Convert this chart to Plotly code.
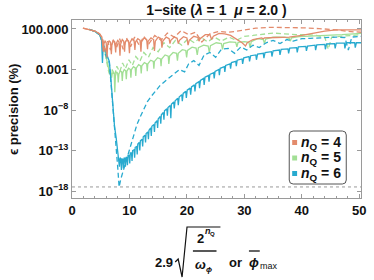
import numpy as np
import plotly.graph_objects as go

# ---------------- data ----------------
# each series: (x, log10 of epsilon precision in %)
# x = 2.9*sqrt(2^nQ / w_phi)  or  phi_max
n4_solid = [(1.9, 2.1), (3.0, 1.95), (4.0, 1.75), (4.8, 1.4), (5.2, 1.0), (5.45, -0.8), (5.55, 0.2), (5.75, 0.5),
            (5.95, 0.3), (6.1, -1.5), (6.2, 0.0), (6.45, 0.55), (6.7, 0.35), (6.85, -1.1), (6.95, 0.1), (7.2, 0.6),
            (7.45, 0.4), (7.6, -0.9), (7.7, 0.2), (7.95, 0.6), (8.2, 0.4), (8.35, -1.3), (8.45, 0.1), (8.75, 0.7),
            (9.0, 0.5), (9.15, -0.8), (9.25, 0.3), (9.55, 0.7), (9.85, 0.5), (10.0, -1.0), (10.1, 0.3), (10.45, 0.8),
            (10.8, 0.6), (10.95, -0.6), (11.05, 0.4), (11.45, 0.8), (11.85, 0.6), (12.0, -0.8), (12.1, 0.4),
            (12.55, 0.9), (13.0, 0.7), (13.15, -0.5), (13.25, 0.5), (13.75, 0.9), (14.2, 0.7), (14.35, -0.7),
            (14.5, 0.5), (15.0, 1.0), (15.5, 0.8), (15.65, -0.3), (15.8, 0.5), (16.4, 1.0), (16.9, 0.8), (17.05, 0.2),
            (17.2, 0.6), (17.8, 1.0), (18.3, 0.85), (18.5, 0.2), (18.7, 0.6), (19.4, 1.05), (20.0, 0.9), (20.2, 0.0),
            (20.4, 0.6), (21.2, 1.1), (21.9, 0.95), (22.1, 0.5), (22.3, 0.8), (23.2, 1.3), (24.0, 1.3), (24.3, 0.7),
            (24.6, 1.1), (25.6, 1.45), (26.6, 1.4), (27.6, 1.2), (28.6, 0.8), (29.6, 0.3), (30.2, -0.1), (30.5, 0.3),
            (31.5, 0.7), (33.0, 0.9), (33.3, 0.8), (33.5, 0.9), (35.5, 0.95), (37.8, 1.0), (40.0, 1.2), (42.0, 1.5),
            (44.0, 1.75), (46.0, 1.9), (48.0, 1.9), (50.3, 1.9)]

n4_dashed = [(1.9, 2.1), (3.0, 1.95), (4.0, 1.75), (4.8, 1.4), (5.4, 0.6), (5.8, -0.9), (6.2, 0.5), (6.7, -0.6),
             (7.2, 0.7), (7.7, -0.4), (8.3, 0.8), (8.9, -0.5), (9.5, 0.9), (10.2, -0.2), (10.9, 1.0), (11.7, 0.0),
             (12.5, 1.1), (13.4, 0.2), (14.4, 1.2), (15.5, 0.6), (16.6, 1.5), (17.8, 1.0), (19.0, 1.8), (20.3, 1.3),
             (21.5, 1.6), (22.6, 0.4), (24.0, 1.4), (25.5, 1.7), (27.0, 1.6), (28.5, 1.7), (30.0, 1.9), (32.0, 2.1),
             (34.5, 2.2), (37.0, 2.2), (40.0, 2.15), (43.0, 2.05), (46.0, 1.9), (48.0, 1.7), (50.3, 1.6)]

n5_solid = [(3.0, 1.95), (4.0, 1.7), (4.8, 1.3), (5.3, 0.5), (5.8, -1.0), (6.2, -2.4), (6.5, -3.3), (6.75, -3.2),
            (6.9, -4.0), (7.0, -3.5), (7.2, -3.35), (7.35, -3.5), (7.45, -5.8), (7.55, -3.8), (7.75, -3.3),
            (7.95, -3.45), (8.05, -4.6), (8.15, -3.6), (8.4, -3.15), (8.65, -3.3), (8.75, -4.4), (8.85, -3.4),
            (9.1, -3.0), (9.35, -3.15), (9.45, -4.2), (9.55, -3.2), (9.85, -2.85), (10.15, -3.0), (10.25, -4.0),
            (10.35, -3.0), (10.7, -2.65), (11.0, -2.8), (11.1, -3.8), (11.2, -2.8), (11.6, -2.4), (11.95, -2.55),
            (12.05, -3.5), (12.15, -2.55), (12.6, -2.15), (13.0, -2.3), (13.1, -3.2), (13.2, -2.3), (13.7, -1.85),
            (14.15, -2.0), (14.25, -2.9), (14.35, -2.0), (14.9, -1.55), (15.4, -1.7), (15.5, -2.6), (15.6, -1.7),
            (16.2, -1.2), (16.75, -1.35), (16.85, -2.3), (17.0, -1.35), (17.6, -0.9), (18.2, -1.0), (18.35, -1.9),
            (18.5, -1.0), (19.2, -0.55), (19.8, -0.65), (19.95, -1.5), (20.1, -0.65), (20.9, -0.25), (21.6, -0.35),
            (21.8, -1.2), (22.0, -0.3), (22.9, 0.0), (23.7, -0.1), (23.9, -0.9), (24.1, -0.05), (25.1, 0.3),
            (26.0, 0.2), (26.2, -0.5), (26.4, 0.2), (27.5, 0.4), (28.5, 0.35), (28.7, -0.2), (28.9, 0.35),
            (30.0, 0.45), (30.8, 0.35), (31.0, -0.3), (31.2, 0.45), (32.3, 0.8), (33.3, 0.7), (33.5, 0.2),
            (33.7, 0.75), (35.0, 1.0), (37.0, 1.0), (37.8, 0.85), (38.0, 0.5), (38.2, 0.9), (39.5, 1.05),
            (41.0, 1.1), (43.0, 1.1), (45.0, 1.2), (47.0, 1.3), (49.0, 1.4), (50.3, 1.45)]

n5_dashed = [(3.0, 1.95), (4.0, 1.7), (4.8, 1.3), (5.4, 0.3), (5.9, -1.5), (6.3, -3.0), (6.7, -4.0), (7.0, -3.0),
             (7.4, -3.8), (7.8, -2.6), (8.3, -3.3), (8.8, -2.2), (9.3, -2.9), (9.9, -1.8), (10.5, -2.5), (11.1, -1.4),
             (11.8, -2.0), (12.5, -0.9), (13.3, -1.5), (14.1, -0.3), (15.0, -0.8), (16.0, 0.3), (17.0, -0.3),
             (18.0, 0.6), (19.1, 0.0), (20.2, 0.8), (21.3, 0.3), (22.4, 1.0), (23.6, 0.4), (24.8, 1.0), (26.0, 0.5),
             (27.3, 1.0), (28.6, 0.6), (30.0, 1.1), (31.5, 1.2), (33.0, 1.3), (35.0, 1.5), (37.0, 1.4), (39.0, 1.3),
             (41.0, 1.3), (42.5, 1.2), (44.0, 1.0), (44.6, -0.5), (45.2, 1.0), (47.0, 1.1), (48.5, 1.2), (50.3, 1.3)]

n6_solid = [(3.0, 1.95), (4.0, 1.7), (4.8, 1.3), (5.15, 0.6), (5.3, -2.2), (5.45, 0.2), (5.7, -0.5), (6.0, -1.0),
            (6.3, -1.5), (6.5, -2.0), (6.8, -4.5), (7.1, -7.5), (7.4, -10.0), (7.7, -11.5), (7.9, -12.6),
            (8.1, -13.6), (8.25, -15.0), (8.35, -13.9), (8.5, -14.0), (8.6, -15.4), (8.7, -14.0), (8.85, -14.1),
            (8.95, -15.2), (9.05, -13.9), (9.2, -14.0), (9.3, -15.0), (9.4, -13.8), (9.55, -13.9), (9.65, -14.8),
            (9.75, -13.6), (9.95, -13.6), (10.05, -14.6), (10.15, -13.3), (10.35, -13.3), (10.45, -14.3),
            (10.55, -13.0), (10.8, -12.9), (10.9, -13.9), (11.0, -12.6), (11.25, -12.5), (11.35, -13.5),
            (11.45, -12.2), (11.7, -12.0), (11.8, -13.0), (11.9, -11.8), (12.2, -11.6), (12.3, -12.5), (12.4, -11.3),
            (12.7, -11.1), (12.8, -12.0), (12.9, -10.9), (13.2, -10.7), (13.3, -11.6), (13.4, -10.5), (13.7, -10.2),
            (13.8, -11.2), (13.9, -10.0), (14.25, -9.8), (14.35, -10.7), (14.45, -9.6), (14.8, -9.3), (14.9, -10.2),
            (15.0, -9.1), (15.35, -8.8), (15.45, -9.7), (15.55, -8.6), (15.9, -8.3), (16.0, -9.2), (16.1, -8.1),
            (16.5, -7.85), (16.6, -8.7), (16.7, -7.7), (17.1, -7.45), (17.2, -9.0), (17.3, -7.3), (17.7, -7.0),
            (17.8, -7.8), (17.95, -6.85), (18.4, -6.55), (18.5, -7.4), (18.65, -6.4), (19.1, -6.1), (19.2, -6.9),
            (19.35, -5.95), (19.8, -5.7), (19.9, -6.5), (20.05, -5.55), (20.55, -5.3), (20.65, -6.1), (20.8, -5.15),
            (21.3, -4.9), (21.4, -5.7), (21.55, -4.75), (22.1, -4.5), (22.2, -5.3), (22.35, -4.35), (22.9, -4.1),
            (23.0, -4.9), (23.15, -3.95), (23.75, -3.75), (23.85, -4.5), (24.0, -3.6), (24.65, -3.4), (24.75, -4.1),
            (24.9, -3.25), (25.55, -3.0), (25.65, -3.7), (25.8, -2.85), (26.5, -2.65), (26.6, -3.3), (26.75, -2.5),
            (27.5, -2.3), (27.6, -2.9), (27.75, -2.15), (28.5, -2.0), (28.6, -2.6), (28.75, -1.85), (29.6, -1.7),
            (29.7, -2.3), (29.9, -1.55), (30.8, -1.4), (30.9, -2.0), (31.1, -1.3), (32.0, -1.2), (32.1, -1.8),
            (32.3, -1.1), (33.3, -1.0), (33.4, -1.6), (33.6, -0.9), (34.7, -0.8), (34.8, -1.4), (35.0, -0.7),
            (36.1, -0.6), (36.2, -1.2), (36.4, -0.5), (37.6, -0.45), (37.7, -1.0), (37.9, -0.35), (39.1, -0.3),
            (39.2, -0.9), (39.4, -0.2), (40.7, -0.15), (40.8, -0.7), (41.0, -0.1), (42.3, 0.0), (42.4, -0.6),
            (42.6, 0.05), (44.0, 0.1), (44.1, -0.5), (44.3, 0.15), (45.7, 0.2), (45.8, -0.4), (46.0, 0.25),
            (47.4, 0.25), (47.5, -0.4), (47.7, 0.3), (49.2, 0.3), (49.3, -0.3), (49.5, 0.3), (50.3, 0.3)]

n6_dashed = [(3.0, 1.95), (4.0, 1.7), (4.8, 1.3), (5.3, 0.4), (5.6, -0.8), (5.9, -1.3), (6.2, -1.6), (6.5, -2.2),
             (6.8, -4.8), (7.1, -7.8), (7.4, -10.6), (7.7, -12.8), (7.95, -15.0), (8.2, -17.5), (8.5, -16.5),
             (8.9, -15.5), (9.3, -14.6), (9.8, -13.5), (10.3, -12.3), (10.8, -11.0), (11.3, -9.8), (11.9, -8.8),
             (12.5, -7.9), (13.1, -7.0), (13.8, -6.3), (14.5, -5.7), (15.3, -5.0), (16.1, -4.5), (17.0, -4.0),
             (17.8, -3.5), (18.7, -3.0), (19.6, -3.3), (20.3, -2.3), (21.2, -1.9), (22.1, -2.5), (23.0, -1.2),
             (24.0, -0.9), (25.0, -1.5), (26.0, -0.5), (27.2, -0.4), (28.3, -1.0), (29.4, -0.2), (30.4, -0.6),
             (31.5, 0.0), (32.6, -0.3), (33.8, 0.3), (35.0, 0.6), (36.2, 0.2), (37.4, 0.7), (38.5, 0.5), (40.0, 0.8),
             (41.5, 0.85), (43.0, 0.9), (44.5, 0.9), (46.0, 1.0), (47.5, 0.95), (48.1, -0.6), (48.7, 1.0),
             (50.3, 1.1)]

precision_floor = 3.2e-18
x_range = [0, 50.3]

y_tick_vals = [100, 1e-3, 1e-8, 1e-13, 1e-18]
y_tick_text = ["100.000", "0.001", "10<sup>\u22128</sup>", "10<sup>\u221213</sup>", "10<sup>\u221218</sup>"]
x_tick_vals = [0, 10, 20, 30, 40, 50]

legend_labels = ["4", "5", "6"]

# ---------------- styling ----------------
C4 = "#E38B6C"
C5 = "#A2DF95"
C6 = "#27AACF"
FONT = "Liberation Sans, Arial, sans-serif"
W, H = 374, 280
L, R, T, B = 72, 366, 20, 198


def fx(p):
    return (p - L) / (R - L)


def fy(p):
    return (B - p) / (B - T)


fig = go.Figure()


def add_line(points, color, dashed):
    xs = [p[0] for p in points]
    ys = 10.0 ** np.array([p[1] for p in points])
    fig.add_trace(go.Scatter(
        x=xs, y=ys, mode="lines", showlegend=False,
        line=dict(color=color, width=1.3, dash="5px,3px" if dashed else "solid"),
        hoverinfo="skip"))


fig.add_trace(go.Scatter(x=x_range, y=[precision_floor, precision_floor], mode="lines", showlegend=False,
                         line=dict(color="#9a9a9a", width=1, dash="3px,3px"), hoverinfo="skip"))
add_line(n5_solid, C5, False)
add_line(n5_dashed, C5, True)
add_line(n6_solid, C6, False)
add_line(n6_dashed, C6, True)
add_line(n4_solid, C4, False)
add_line(n4_dashed, C4, True)

axis_col = "#9a9a9a"
fig.update_xaxes(range=x_range, showline=True, linecolor=axis_col, linewidth=1, mirror="ticks",
                 ticks="inside", ticklen=4, tickcolor=axis_col, tickvals=x_tick_vals,
                 minor=dict(dtick=2, ticks="inside", ticklen=2, tickcolor=axis_col),
                 showgrid=False, zeroline=False,
                 tickfont=dict(family=FONT, size=13, color="#111", weight="bold"))
fig.update_yaxes(type="log", range=[-18.86, 3.11], showline=True, linecolor=axis_col, linewidth=1, mirror="ticks",
                 ticks="inside", ticklen=4, tickcolor=axis_col, tickvals=y_tick_vals, ticktext=y_tick_text,
                 showgrid=False, zeroline=False,
                 tickfont=dict(family=FONT, size=13, color="#111", weight="bold"))

shapes = []
annotations = []


def ann(text, x, y, size=13, **kw):
    d = dict(text=text, x=fx(x), y=fy(y), xref="paper", yref="paper", showarrow=False,
             xanchor=kw.pop("xanchor", "center"), yanchor="middle",
             font=dict(family=FONT, size=size, color="#111"))
    d.update(kw)
    annotations.append(d)


def seg(x0, y0, x1, y1, w=1.2, color="#111"):
    shapes.append(dict(type="line", xref="paper", yref="paper", x0=fx(x0), y0=fy(y0), x1=fx(x1), y1=fy(y1),
                       line=dict(color=color, width=w)))


# y axis title
ann("<b>\u03f5 precision (%)</b>", 12, 110, size=13, textangle=-90)

# x axis title built from pieces
ann("<b>2.9</b>", 166, 262, 13)
rad = [(177, 262), (180, 259), (184, 277), (189, 227), (223, 227)]
path = "M " + " L ".join(f"{fx(a):.5f},{fy(b):.5f}" for a, b in rad)
shapes.append(dict(type="path", xref="paper", yref="paper", path=path, line=dict(color="#111", width=1.2)))
ann("<b>2</b>", 203, 238, 13)
ann("<b><i>n</i></b>", 210, 231, 9)
ann("<b>Q</b>", 215, 234, 6)
seg(195, 251, 219, 251, 1.4)
ann("<b><i>\u03c9</i></b>", 203, 264, 13)
ann("<b><i>\u03d5</i></b>", 211, 269, 8)
ann("<b>or</b>", 238, 262, 13)
ann("<b><i>\u03d5</i></b>", 257, 262, 13)
seg(252, 251, 263, 251, 1.3)
ann("max", 272, 266, 9)

# legend (manual)
x0, y0, x1, y1, r = 293, 131, 351, 184, 4
lp = (f"M {fx(x0 + r)},{fy(y0)} L {fx(x1 - r)},{fy(y0)} Q {fx(x1)},{fy(y0)} {fx(x1)},{fy(y0 + r)} "
      f"L {fx(x1)},{fy(y1 - r)} Q {fx(x1)},{fy(y1)} {fx(x1 - r)},{fy(y1)} "
      f"L {fx(x0 + r)},{fy(y1)} Q {fx(x0)},{fy(y1)} {fx(x0)},{fy(y1 - r)} "
      f"L {fx(x0)},{fy(y0 + r)} Q {fx(x0)},{fy(y0)} {fx(x0 + r)},{fy(y0)} Z")
shapes.append(dict(type="path", xref="paper", yref="paper", path=lp, fillcolor="white",
                   line=dict(color="#555", width=1)))
for lab, col, yc in zip(legend_labels, [C4, C5, C6], [142.5, 158, 173.5]):
    shapes.append(dict(type="rect", xref="paper", yref="paper", x0=fx(296), x1=fx(301), y0=fy(yc - 2.5),
                       y1=fy(yc + 2.5), fillcolor=col, line=dict(width=0)))
    ann(f"<b><i>n</i><sub>Q</sub> = {lab}</b>", 303, yc, 14, xanchor="left")

fig.update_layout(
    width=W, height=H, margin=dict(l=L, r=W - R, t=T, b=H - B),
    paper_bgcolor="white", plot_bgcolor="white",
    title=dict(text="<b>1\u2212site (<i>\u03bb</i> = 1 \u00a0<i>\u03bc</i> = 2.0 )</b>", x=fx(219), xref="paper",
               xanchor="center", y=1 - 10 / H, yref="container", yanchor="middle",
               font=dict(family=FONT, size=14, color="#111")),
    shapes=shapes, annotations=annotations, showlegend=False,
)

fig.write_html("out.html", config={"displayModeBar": False},
               post_script="document.body.style.margin='0';document.body.style.overflow='hidden';")
